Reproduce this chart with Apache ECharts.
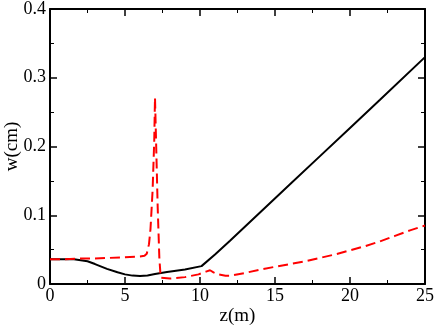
<!DOCTYPE html>
<html>
<head>
<meta charset="utf-8">
<script src="https://cdn.jsdelivr.net/npm/echarts@6/dist/echarts.min.js"></script>
<style>
  html, body { margin: 0; padding: 0; background: #fff; }
  #chart { width: 436px; height: 327px; }
</style>
</head>
<body>
<div id="chart"></div>
<script>
// solid black curve
const solidZ = [0, 1, 1.6, 2.5, 3, 3.8, 4.5, 5, 5.5, 6, 6.5, 7, 7.8, 9, 10.1, 11, 12, 14, 16, 18, 20, 22, 25]
const solidW = [0.036, 0.036, 0.036, 0.033, 0.029, 0.022, 0.017, 0.014, 0.0122, 0.0118, 0.0125, 0.0145, 0.0175, 0.021, 0.026, 0.043, 0.063, 0.104, 0.145, 0.186, 0.227, 0.268, 0.33]

// dashed red curve
const dashZ = [0, 1, 2, 3, 4, 5, 6, 6.3, 6.45, 6.6, 6.7, 6.84, 6.95, 7.0, 7.07, 7.18, 7.29, 7.38, 7.5, 8, 9, 9.9, 10.4, 10.67, 10.9, 11.2, 11.7, 12, 13, 14, 15, 16, 17, 18, 19, 20, 21, 22, 23, 24, 25]
const dashW = [0.036, 0.036, 0.037, 0.037, 0.038, 0.039, 0.040, 0.041, 0.044, 0.058, 0.08, 0.136, 0.209, 0.271, 0.209, 0.111, 0.038, 0.009, 0.007, 0.008, 0.010, 0.014, 0.018, 0.020, 0.017, 0.014, 0.012, 0.012, 0.016, 0.021, 0.025, 0.029, 0.033, 0.038, 0.043, 0.049, 0.055, 0.062, 0.070, 0.078, 0.085]

const xTicks = [0, 5, 10, 15, 20, 25]
const yTicks = [0, 0.1, 0.2, 0.3, 0.4]

const font = 'Liberation Serif'
const chart = echarts.init(document.getElementById('chart'))

function frameAxis(extra) {
  return Object.assign({
    type: 'value',
    axisLine: { show: true, onZero: false, lineStyle: { color: '#000', width: 2 } },
    axisTick: { show: true, inside: true, length: 7, lineStyle: { color: '#000', width: 1.5 } },
    minorTick: { show: true, splitNumber: 2, length: 4, lineStyle: { color: '#000', width: 1 } },
    splitLine: { show: false },
    minorSplitLine: { show: false }
  }, extra)
}

chart.setOption({
  animation: false,
  textStyle: { fontFamily: font, color: '#000' },
  grid: { left: 50, right: 11, top: 9, bottom: 43, containLabel: false, outerBoundsMode: 'none' },
  xAxis: [
    frameAxis({
      min: xTicks[0], max: xTicks[xTicks.length - 1], interval: 5,
      name: 'z(m)', nameLocation: 'middle', nameGap: 23, nameMoveOverlap: false,
      nameTextStyle: { fontFamily: font, fontSize: 19, color: '#000' },
      axisLabel: { fontFamily: font, fontSize: 18, color: '#000', margin: 3 }
    }),
    frameAxis({
      min: xTicks[0], max: xTicks[xTicks.length - 1], interval: 5,
      position: 'top', axisLabel: { show: false }
    })
  ],
  yAxis: [
    frameAxis({
      min: yTicks[0], max: yTicks[yTicks.length - 1], interval: 0.1,
      name: 'w(cm)', nameLocation: 'middle', nameGap: 28, nameMoveOverlap: false,
      nameTextStyle: { fontFamily: font, fontSize: 19, color: '#000' },
      axisLabel: {
        fontFamily: font, fontSize: 18, color: '#000', margin: 4,
        formatter: v => v === 0 ? '0' : v.toFixed(1)
      }
    }),
    frameAxis({
      min: yTicks[0], max: yTicks[yTicks.length - 1], interval: 0.1,
      position: 'right', axisLabel: { show: false }
    })
  ],
  series: [
    {
      type: 'line',
      data: solidZ.map((z, i) => [z, solidW[i]]),
      showSymbol: false,
      lineStyle: { color: '#000', width: 2 },
      z: 3
    },
    {
      type: 'line',
      data: dashZ.map((z, i) => [z, dashW[i]]),
      showSymbol: false,
      lineStyle: { color: '#ff0000', width: 2, type: [10, 5] },
      z: 4
    }
  ]
})
</script>
</body>
</html>
